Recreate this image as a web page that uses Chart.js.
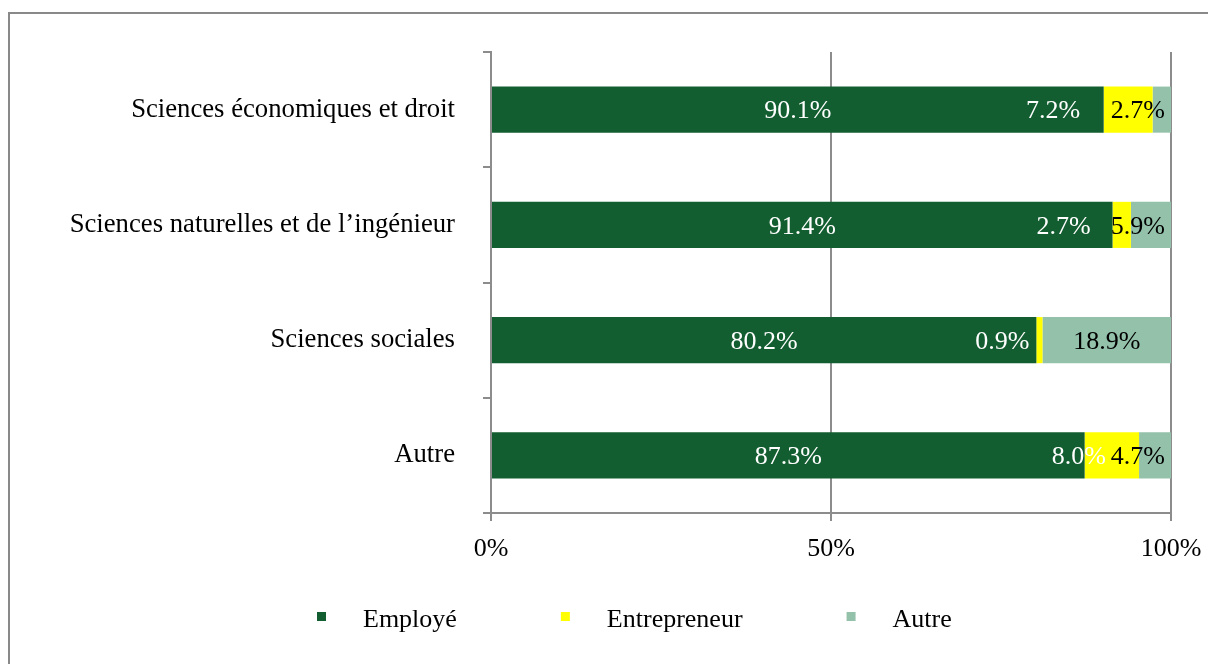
<!DOCTYPE html>
<html>
<head>
<meta charset="utf-8">
<script src="https://cdn.jsdelivr.net/npm/chart.js@4/dist/chart.umd.min.js"></script>
<style>
  body { margin: 0; background: #fff; }
</style>
</head>
<body>
<canvas id="myChart" width="1208" height="664"></canvas>
<script>
const categories = [
  "Sciences économiques et droit",
  "Sciences naturelles et de l’ingénieur",
  "Sciences sociales",
  "Autre",
];
const employe = [90.1, 91.4, 80.2, 87.3];
const entrepreneur = [7.2, 2.7, 0.9, 8.0];
const autre = [2.7, 5.9, 18.9, 4.7];
const xTicks = [0, 50, 100];

const serif = "'Liberation Serif', 'Times New Roman', serif";
const axisGray = "#8c8c8c";

// frame around the whole chart
const framePlugin = {
  id: "frame",
  beforeDraw(chart) {
    const c = chart.ctx;
    c.save();
    c.fillStyle = "#fff";
    c.fillRect(0, 0, chart.width, chart.height);
    c.strokeStyle = "#898989";
    c.lineWidth = 2;
    c.strokeRect(9, 13, chart.width + 40, chart.height + 40);
    c.restore();
  },
};

// value labels, placed more or less like the original
const barLabels = {
  id: "barLabels",
  afterDatasetsDraw(chart, args, opts) {
    const c = chart.ctx;
    const area = chart.chartArea;
    c.save();
    c.font = "26px " + serif;
    c.textBaseline = "middle";
    c.textAlign = "center";
    chart.data.datasets.forEach((ds, i) => {
      const meta = chart.getDatasetMeta(i);
      meta.data.forEach((bar, j) => {
        const txt = ds.data[j].toFixed(1) + "%";
        const w = c.measureText(txt).width;
        let x = (bar.x + bar.base) / 2;
        if (i === 1) x += opts.nudge[j];
        if (i === 2) x = Math.min(x, area.right - 6 - w / 2);
        c.fillStyle = i === 2 ? "#000" : "#fff";
        c.fillText(txt, x, bar.y + 2);
      });
    });
    c.restore();
  },
};

// legend at the bottom
const bottomLegend = {
  id: "bottomLegend",
  afterDraw(chart, args, opts) {
    const c = chart.ctx;
    c.save();
    c.font = "26px " + serif;
    c.textBaseline = "middle";
    c.textAlign = "left";
    let x = opts.left;
    chart.data.datasets.forEach((ds) => {
      c.fillStyle = ds.backgroundColor;
      c.fillRect(x, opts.y - 4, 9, 9);
      c.fillStyle = "#000";
      c.fillText(ds.label, x + 46, opts.y + 4);
      x += 46 + c.measureText(ds.label).width + 104;
    });
    c.restore();
  },
};

const data = {
  labels: categories,
  datasets: [
    { label: "Employé", data: employe, backgroundColor: "#135e30" },
    { label: "Entrepreneur", data: entrepreneur, backgroundColor: "#ffff00" },
    { label: "Autre", data: autre, backgroundColor: "#93c1aa" },
  ],
};

const config = {
  type: "bar",
  data: data,
  options: {
    indexAxis: "y",
    responsive: false,
    animation: false,
    categoryPercentage: 1,
    barPercentage: 0.4,
    layout: {
      padding: { top: 52, right: 37, bottom: 91, left: 0 },
    },
    plugins: {
      legend: { display: false },
      tooltip: { enabled: false },
      barLabels: { nudge: [-75, -58, -37, -33] },
      bottomLegend: { left: 317, y: 616 },
    },
    scales: {
      x: {
        stacked: true,
        min: 0,
        max: 100,
        afterBuildTicks: (s) => {
          s.ticks = xTicks.map((v) => ({ value: v }));
        },
        afterFit: (s) => {
          s.height = 60;
          s.paddingLeft = 0;
          s.paddingRight = 0;
        },
        grid: { color: axisGray, lineWidth: 2, tickLength: 8 },
        border: { color: axisGray, width: 2 },
        ticks: {
          callback: (v) => v + "%",
          color: "#000",
          padding: 13,
          maxRotation: 0,
          font: { family: serif, size: 26 },
        },
      },
      y: {
        stacked: true,
        afterFit: (s) => {
          s.width = 491;
          s.paddingTop = 0;
          s.paddingBottom = 0;
        },
        grid: {
          color: axisGray,
          lineWidth: 2,
          tickLength: 8,
          drawOnChartArea: false,
        },
        border: { color: axisGray, width: 2 },
        ticks: {
          color: "#000",
          padding: 28,
          font: { family: serif, size: 26.7 },
        },
      },
    },
  },
  plugins: [framePlugin, barLabels, bottomLegend],
};

const myChart = new Chart(document.querySelector("#myChart").getContext("2d"), config);
</script>
</body>
</html>
